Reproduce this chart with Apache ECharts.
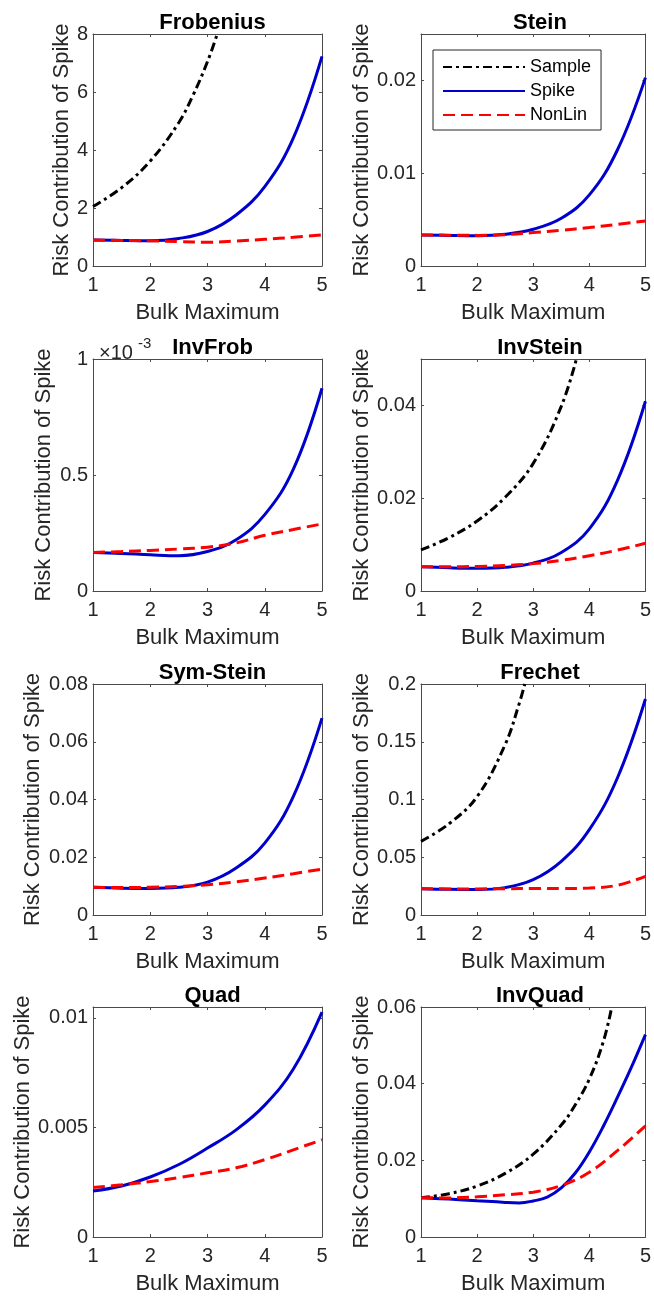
<!DOCTYPE html>
<html><head><meta charset="utf-8">
<script src="https://cdn.jsdelivr.net/npm/echarts@6/dist/echarts.min.js"></script>
<style>html,body{margin:0;padding:0;background:#fff}#c{width:654px;height:1296px}</style>
</head><body><div id="c"></div>
<script>
// ---------- DATA ----------
const X = [1, 1.5, 2, 2.5, 3, 3.5, 4, 4.5, 5];
const titles = ['Frobenius', 'Stein', 'InvFrob', 'InvStein', 'Sym-Stein', 'Frechet', 'Quad', 'InvQuad'];
const seriesNames = ['Sample', 'Spike', 'NonLin'];
const xLabel = 'Bulk Maximum';
const yLabel = 'Risk Contribution of Spike';

// Frobenius
const frobSampleX = [1, 1.5, 2, 2.5, 2.75, 3, 3.17];
const frobSample  = [2.05, 2.70, 3.62, 4.95, 5.90, 7.05, 8.0];
const frobSpike   = [0.90, 0.88, 0.87, 0.95, 1.19, 1.76, 2.74, 4.42, 7.23];
const frobNonLin  = [0.90, 0.88, 0.87, 0.84, 0.82, 0.86, 0.92, 0.99, 1.07];
// Stein
const steinSpike  = [0.00335, 0.0033, 0.00327, 0.00342, 0.00396, 0.00514, 0.00766, 0.0125, 0.0203];
const steinNonLin = [0.00335, 0.00332, 0.0033, 0.00338, 0.0036, 0.00385, 0.00414, 0.00448, 0.00486];
// InvFrob
const invFrobSpike  = [0.000166, 0.000162, 0.000156, 0.000152, 0.000170, 0.000221, 0.000329, 0.000525, 0.000874];
const invFrobNonLin = [0.000166, 0.000170, 0.000175, 0.000181, 0.000189, 0.000207, 0.000240, 0.000265, 0.000289];
// InvStein
const invSteinSampleX = [1, 1.5, 2, 2.5, 3, 3.5, 3.77];
const invSteinSample  = [0.00885, 0.0115, 0.0151, 0.0202, 0.0275, 0.0398, 0.050];
const invSteinSpike   = [0.0052, 0.0050, 0.0049, 0.0051, 0.0060, 0.0083, 0.0134, 0.0238, 0.0409];
const invSteinNonLin  = [0.0052, 0.0052, 0.0053, 0.0055, 0.0059, 0.0066, 0.0076, 0.0088, 0.0103];
// Sym-Stein
const symSteinSpike  = [0.0096, 0.0093, 0.0092, 0.0096, 0.0114, 0.0163, 0.0249, 0.0411, 0.0682];
const symSteinNonLin = [0.0096, 0.0095, 0.0096, 0.0099, 0.0105, 0.0115, 0.0128, 0.0143, 0.0159];
// Frechet
const frechetSampleX = [1, 1.5, 2, 2.5, 2.75, 2.85];
const frechetSample  = [0.0638, 0.079, 0.1025, 0.1476, 0.183, 0.2];
const frechetSpike   = [0.0228, 0.0222, 0.0220, 0.0237, 0.0306, 0.0465, 0.0739, 0.1186, 0.187];
const frechetNonLin  = [0.0228, 0.0226, 0.0226, 0.0228, 0.0229, 0.0229, 0.0233, 0.0258, 0.0335];
// Quad
const quadSpike  = [0.0021, 0.00233, 0.00274, 0.00331, 0.00406, 0.00489, 0.00602, 0.00767, 0.01027];
const quadNonLin = [0.00226, 0.00238, 0.00253, 0.00271, 0.00293, 0.00316, 0.00353, 0.00398, 0.00444];
// InvQuad
const invQuadSampleX = [1, 1.5, 2, 2.5, 3, 3.5, 3.75, 4, 4.25, 4.4];
const invQuadSample  = [0.01023, 0.0113, 0.0133, 0.0166, 0.0216, 0.0292, 0.0345, 0.0412, 0.051, 0.060];
const invQuadSpikeX  = [1, 1.5, 2, 2.5, 2.75, 3, 3.25, 3.5, 3.75, 4, 4.25, 4.5, 4.75, 5];
const invQuadSpike   = [0.01023, 0.00989, 0.00945, 0.00902, 0.0089, 0.0094, 0.0104, 0.0128, 0.0167, 0.0222, 0.0289, 0.0364, 0.0443, 0.0528];
const invQuadNonLin  = [0.01023, 0.0102, 0.0105, 0.0110, 0.0117, 0.01343, 0.01688, 0.02252, 0.029];

// y axis ranges / ticks
const yMaxs      = [8, 0.025, 0.001, 0.05, 0.08, 0.2, 0.0105, 0.06];
const yIntervals = [2, 0.01, 0.0005, 0.02, 0.02, 0.05, 0.005, 0.02];

// ---------- LAYOUT / STYLE ----------
const FONT = '"Liberation Sans", Arial, Helvetica, sans-serif';
const colLeft = [93, 421], colWidth = [229, 228];
const rowTop = [34, 359, 684, 1007], rowHeight = [232, 232, 231, 233];
const yNameGaps = [20, 48, 38, 48, 49, 48, 58, 48];
const AXC = '#4a4a4a', TXC = '#262626';
const styles = {
  Sample: {color: '#000000', width: 3, type: [9, 4, 3, 4]},
  Spike:  {color: '#0000CD', width: 3, type: 'solid'},
  NonLin: {color: '#FF0000', width: 3, type: [12, 6]}
};

const panels = [
  {sample: [frobSampleX, frobSample], spike: [X, frobSpike], nonlin: frobNonLin},
  {sample: null, spike: [X, steinSpike], nonlin: steinNonLin},
  {sample: null, spike: [X, invFrobSpike], nonlin: invFrobNonLin, scale: 1000},
  {sample: [invSteinSampleX, invSteinSample], spike: [X, invSteinSpike], nonlin: invSteinNonLin},
  {sample: null, spike: [X, symSteinSpike], nonlin: symSteinNonLin},
  {sample: [frechetSampleX, frechetSample], spike: [X, frechetSpike], nonlin: frechetNonLin},
  {sample: null, spike: [X, quadSpike], nonlin: quadNonLin},
  {sample: [invQuadSampleX, invQuadSample], spike: [invQuadSpikeX, invQuadSpike], nonlin: invQuadNonLin}
];

const grid = [], xAxis = [], yAxis = [], series = [], title = [];
const lineAx = {show: true, onZero: false, lineStyle: {color: AXC, width: 1}};
const tickAx = {show: true, inside: true, length: 3, lineStyle: {color: AXC, width: 1}};

function mk(name, xs, ys, i) {
  const s = styles[name];
  return {
    name, type: 'line', xAxisIndex: 2 * i, yAxisIndex: 2 * i,
    data: xs.map((x, k) => [x, ys[k]]),
    smooth: 0.4, symbol: 'none', showSymbol: false, clip: true,
    lineStyle: {color: s.color, width: s.width, type: s.type, cap: 'butt'},
    itemStyle: {color: s.color},
    z: name === 'NonLin' ? 4 : (name === 'Spike' ? 3 : 2)
  };
}

panels.forEach((p, i) => {
  const c = i % 2, r = Math.floor(i / 2);
  const L = colLeft[c], T = rowTop[r], W = colWidth[c], H = rowHeight[r];
  grid.push({left: L, top: T, width: W, height: H, containLabel: false});
  const hideMax = Math.abs(yMaxs[i] / yIntervals[i] - Math.round(yMaxs[i] / yIntervals[i])) > 1e-6;
  xAxis.push({
    gridIndex: i, type: 'value', min: 1, max: 5, interval: 1, position: 'bottom',
    axisLine: lineAx, axisTick: tickAx, splitLine: {show: false},
    axisLabel: {fontSize: 20, color: TXC, fontFamily: FONT, margin: 9},
    name: xLabel, nameLocation: 'middle', nameGap: 36,
    nameTextStyle: {fontSize: 22, color: TXC, fontFamily: FONT}
  });
  xAxis.push({
    gridIndex: i, type: 'value', min: 1, max: 5, interval: 1, position: 'top',
    axisLine: lineAx, axisTick: tickAx, splitLine: {show: false}, axisLabel: {show: false}
  });
  const sc = p.scale || 1;
  yAxis.push({
    gridIndex: i, type: 'value', min: 0, max: yMaxs[i], interval: yIntervals[i], position: 'left',
    axisLine: lineAx, axisTick: tickAx, splitLine: {show: false},
    axisLabel: {fontSize: 20, color: TXC, fontFamily: FONT, margin: 5, showMaxLabel: !hideMax,
      formatter: v => String(+(v * sc).toFixed(6))},
    name: yLabel, nameLocation: 'middle', nameGap: yNameGaps[i],
    nameTextStyle: {fontSize: 22, color: TXC, fontFamily: FONT}
  });
  yAxis.push({
    gridIndex: i, type: 'value', min: 0, max: yMaxs[i], interval: yIntervals[i], position: 'right',
    axisLine: lineAx, axisTick: tickAx, splitLine: {show: false}, axisLabel: {show: false}
  });
  title.push({
    text: titles[i], left: L + W / 2, top: T - 27, textAlign: 'center',
    textStyle: {fontSize: 22, fontWeight: 'bold', color: '#000', fontFamily: FONT}
  });
  if (p.sample) series.push(mk('Sample', p.sample[0], p.sample[1], i));
  series.push(mk('Spike', p.spike[0], p.spike[1], i));
  series.push(mk('NonLin', X, p.nonlin, i));
});

// exponent label for InvFrob
title.push({text: '×10', left: 94, top: 338, textStyle: {fontSize: 20, fontWeight: 'normal', color: TXC, fontFamily: FONT}});
title.push({text: '-3', left: 133, top: 331, textStyle: {fontSize: 15, fontWeight: 'normal', color: TXC, fontFamily: FONT}});

const chart = echarts.init(document.getElementById('c'), null, {renderer: 'canvas'});
chart.setOption({
  animation: false,
  backgroundColor: '#fff',
  title, grid, xAxis, yAxis, series,
  legend: {
    show: true, orient: 'vertical', left: 433, top: 50,
    itemWidth: 82, itemHeight: 14, itemGap: 6, padding: [8, 10, 6, 9],
    borderColor: '#262626', borderWidth: 1, backgroundColor: '#fff',
    selectedMode: false, data: seriesNames,
    itemStyle: {opacity: 0},
    textStyle: {fontSize: 18, color: '#000', fontFamily: FONT}
  }
});
</script></body></html>
